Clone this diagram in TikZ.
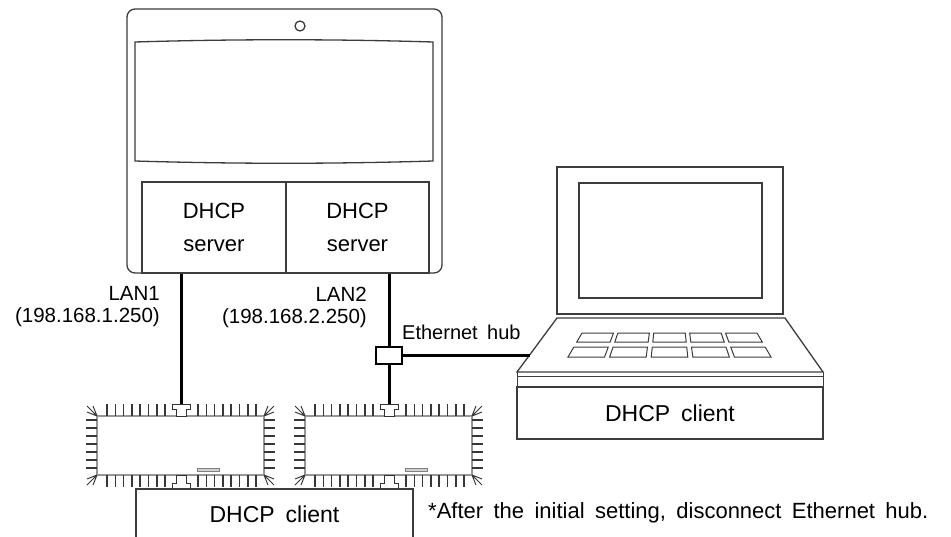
\documentclass[tikz,border=0pt]{standalone}
\usepackage{fontspec}
\setmainfont{Liberation Sans}[WordSpace=1.7]
\usepackage{tikz}
\usetikzlibrary{positioning}
\definecolor{devline}{RGB}{60,60,60}
\definecolor{finline}{RGB}{55,55,55}
\definecolor{bodyfill}{RGB}{150,150,150}

\begin{document}
\begin{tikzpicture}[x=1pt, y=-1pt,
    dev/.style={draw=devline, line width=1.3pt},
    lan/.style={line width=3pt, black},
    fin/.style={draw=finline, line width=1.5pt},
    chipbody/.style={draw=black!70, double=bodyfill, double distance=1.3pt, line width=0.7pt},
    port/.style={draw=black!80, fill=white, line width=1pt},
    srvbox/.style={dev, minimum width=144, minimum height=91, inner sep=0pt, align=center,
        font=\fontsize{22}{33}\selectfont},
    lbl/.style={font=\fontsize{20.5}{22}\selectfont, inner sep=0pt}]
\useasboundingbox (0,0) rectangle (951,536);

% Controller with two DHCP servers
\draw[dev, rounded corners=8] (127,9) rectangle (442,273);
\draw[dev] (300,26) circle (5pt);
\draw[dev] (135,42) .. controls (235,39) and (333,39) .. (433,42) -- (433,161)
    .. controls (333,164) and (235,164) .. (135,161) -- cycle;
\node[srvbox] (srvA) at (214,227.5) {DHCP\\server};
\node[srvbox, minimum width=143] (srvB) at (357.5,227.5) {DHCP\\server};

% LAN labels
\node[lbl, anchor=east, align=right] (lanA) at (160,307) {LAN1\\(198.168.1.250)};
\node[lbl, anchor=east, align=right] (lanB) at (367,307) {LAN2\\(198.168.2.250)};

% Modules with heat sink fins
\foreach \cx/\nm in {97/modA, 305/modB} {
    \draw[chipbody] (\cx,416) rectangle ++(167,59);
    \foreach \k in {0,...,7} {
        \draw[fin] ({\cx+10+8.3*\k},404) -- ++(0,12);
        \draw[fin] ({\cx+101+8.3*\k},404) -- ++(0,12);
        \draw[fin] ({\cx+10+8.3*\k},475) -- ++(0,12);
        \draw[fin] ({\cx+101+8.3*\k},475) -- ++(0,12);
    }
    \foreach \k in {0,...,6} {
        \draw[fin] (\cx,{420+8*\k}) -- ++(-11,0);
        \draw[fin] ({\cx+167},{420+8*\k}) -- ++(11,0);
    }
    % corner marks
    \foreach \px/\py/\sx/\sy in {0/0/-1/-1, 167/0/1/-1, 0/59/-1/1, 167/59/1/1} {
        \draw[finline, line width=1pt] ({\cx+\px},{416+\py}) -- ++({10*\sx},{10*\sy})
            ({\cx+\px},{416+\py}) -- ++({4*\sx},{10*\sy})
            ({\cx+\px},{416+\py}) -- ++({10*\sx},{4*\sy});
    }
    % connectors
    \draw[port] ({\cx+75},404) -- ++(18,0) -- ++(0,5) -- ++(-4,0) -- ++(0,7)
        -- ++(-10,0) -- ++(0,-7) -- ++(-4,0) -- cycle;
    \draw[port] ({\cx+75},488) -- ++(18,0) -- ++(0,-5) -- ++(-4,0) -- ++(0,-8)
        -- ++(-10,0) -- ++(0,8) -- ++(-4,0) -- cycle;
    \draw[draw=gray, fill=gray!35, line width=0.8pt] ({\cx+100},468) rectangle ++(22,3);
    \coordinate (\nm-port) at ({\cx+84},404);
}

% DHCP client under the modules
\draw[dev] (136,545) |- (413,489) -- (413,545);
\node[font=\fontsize{23}{26}\selectfont] (modclient) at (274.5,514) {DHCP client};

% Laptop
\draw[dev] (557,167) rectangle (783,314);
\draw[dev] (579,183) rectangle (762,298);
\draw[dev] (557,318) -- (785,318) -- (823,372) -- (517,372) -- cycle;
\foreach \yt/\yb in {333/342, 347/357} {
    \foreach \c in {0,...,4} {
        \pgfmathsetmacro\fa{0.205*\c}
        \pgfmathsetmacro\fb{\fa+0.18}
        \pgfmathsetmacro\lt{582-0.583*(\yt-333)}
        \pgfmathsetmacro\rt{757+0.583*(\yt-333)}
        \pgfmathsetmacro\lb{582-0.583*(\yb-333)}
        \pgfmathsetmacro\rb{757+0.583*(\yb-333)}
        \draw[dev, line width=1pt] ({\lt+\fa*(\rt-\lt)},\yt) -- ({\lt+\fb*(\rt-\lt)},\yt)
            -- ({\lb+\fb*(\rb-\lb)},\yb) -- ({\lb+\fa*(\rb-\lb)},\yb) -- cycle;
    }
}
\draw[dev, line width=0.8pt] (517,376) -- (823,376);
\draw[dev, line width=0.8pt] (517,372) -- (517,387) (823,372) -- (823,387);
\node[dev, minimum width=306, minimum height=52, inner sep=0pt,
    font=\fontsize{23}{26}\selectfont] (lapclient) at (670,413) {DHCP client};
\coordinate (lapside) at (529.6,355);

% Ethernet hub and cabling
\node[draw=black, line width=2pt, fill=white, minimum width=26, minimum height=17,
    inner sep=0pt] (hub) at (389,355) {};
\node[lbl, font=\fontsize{20}{22}\selectfont, anchor=west] (hublbl) at (402,332) {Ethernet hub};
\draw[lan] (srvA.south -| modA-port) -- (modA-port);
\draw[lan] (srvB.south -| hub) -- (hub.north);
\draw[lan] (hub.south) -- (modB-port);
\draw[lan] (hub.east) -- (lapside);

% Note
\node[font=\fontsize{22}{24}\selectfont, anchor=west, inner sep=0pt] (note) at (428,513)
    {*After the initial setting, disconnect Ethernet hub.};
\end{tikzpicture}
\end{document}
